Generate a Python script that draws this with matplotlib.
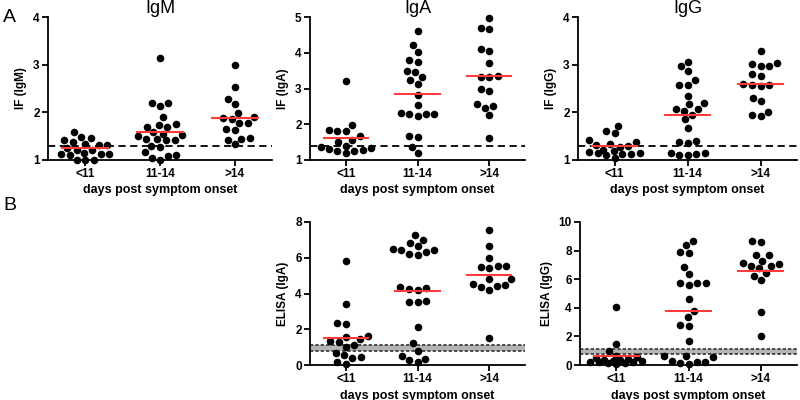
import numpy as np
import matplotlib
matplotlib.use("Agg")
import matplotlib.pyplot as plt

plt.rcParams["font.family"] = ["Liberation Sans", "DejaVu Sans"]

GROUPS = ["<11", "11-14", ">14"]

# IF panels (row A)
igm_if = [
    [1.58, 1.49, 1.46, 1.42, 1.38, 1.33, 1.32, 1.31, 1.25, 1.22, 1.20, 1.15, 1.13, 1.13, 1.12, 1.11, 1.01, 1.00, 1.00],
    [3.13, 2.20, 2.19, 2.13, 1.90, 1.75, 1.74, 1.70, 1.70, 1.58, 1.55, 1.52, 1.50, 1.45, 1.44, 1.42, 1.41, 1.30, 1.28, 1.17, 1.10, 1.08, 1.05, 1.00],
    [3.00, 2.53, 2.28, 2.17, 1.98, 1.90, 1.88, 1.85, 1.77, 1.77, 1.64, 1.62, 1.47, 1.45, 1.43, 1.33],
]
iga_if = [
    [3.20, 1.98, 1.84, 1.82, 1.80, 1.66, 1.57, 1.50, 1.40, 1.37, 1.33, 1.30, 1.29, 1.26, 1.24, 1.19],
    [4.61, 4.22, 4.01, 3.79, 3.75, 3.50, 3.47, 3.33, 3.25, 3.13, 2.82, 2.53, 2.31, 2.30, 2.30, 2.28, 2.22, 1.66, 1.64, 1.37, 1.19],
    [4.97, 4.70, 4.66, 4.10, 4.05, 3.70, 3.35, 3.33, 3.32, 2.98, 2.92, 2.57, 2.50, 2.46, 2.25, 1.62],
]
igg_if = [
    [1.72, 1.60, 1.56, 1.42, 1.38, 1.34, 1.32, 1.30, 1.28, 1.22, 1.18, 1.17, 1.15, 1.14, 1.13, 1.12, 1.11, 1.05],
    [3.05, 2.97, 2.86, 2.67, 2.57, 2.57, 2.35, 2.20, 2.17, 2.07, 2.03, 2.08, 1.95, 1.85, 1.68, 1.40, 1.37, 1.35, 1.15, 1.12, 1.10, 1.10, 1.14],
    [3.28, 3.03, 3.02, 2.98, 2.97, 2.80, 2.76, 2.60, 2.57, 2.57, 2.55, 2.30, 2.23, 2.00, 1.95, 1.93],
]
if_cutoff = {"IgM": 1.30, "IgA": 1.40, "IgG": 1.30}

# ELISA panels (row B)
iga_elisa = [
    [5.83, 3.44, 2.36, 2.28, 1.60, 1.57, 1.48, 1.35, 1.30, 1.12, 1.03, 0.67, 0.55, 0.45, 0.40, 0.18, 0.08],
    [7.25, 7.02, 6.85, 6.65, 6.50, 6.42, 6.45, 6.30, 6.20, 6.15, 4.28, 4.22, 4.27, 4.35, 3.60, 3.50, 3.50, 2.13, 1.22, 0.80, 0.50, 0.35, 0.28, 0.15],
    [7.55, 6.65, 5.98, 5.55, 5.50, 5.45, 5.55, 4.80, 4.83, 4.48, 4.38, 4.40, 4.55, 4.17, 1.50],
]
igg_elisa = [
    [4.07, 1.47, 0.96, 0.62, 0.55, 0.48, 0.42, 0.38, 0.35, 0.30, 0.26, 0.22, 0.20, 0.18, 0.15, 0.12, 0.10],
    [8.67, 8.40, 7.93, 7.83, 6.88, 6.35, 5.75, 5.70, 5.72, 5.62, 4.60, 3.80, 3.35, 2.75, 2.78, 1.68, 0.62, 0.60, 0.55, 0.30, 0.22, 0.20, 0.15, 0.05],
    [8.67, 8.60, 7.70, 7.68, 7.30, 7.15, 7.05, 6.95, 6.90, 6.75, 6.40, 6.25, 5.92, 3.72, 2.00],
]
elisa_band = (0.8, 1.1)

W, H = 800, 400
RED = "#ff3b3b"
DOT_PX = 7.2


def px_axes(fig, x0, x1, ytop, ybot):
    return fig.add_axes([x0 / W, 1 - ybot / H, (x1 - x0) / W, (ybot - ytop) / H])


def swarm_offsets(ax, center, vals, d, cap=0.36):
    """Simple beeswarm; squeezes points together when a group gets too wide."""
    pts = ax.transData.transform(np.column_stack([np.full(len(vals), center), vals]))
    ys = pts[:, 1]
    ppu = ax.transData.transform((1, 0))[0] - ax.transData.transform((0, 0))[0]
    cap_px = cap * ppu
    xs = np.zeros(len(vals))
    placed = []
    for i in np.argsort(ys):
        y = ys[i]
        dd = d
        while True:
            forb = []
            for px, py in placed:
                dy = abs(y - py)
                if dy < dd:
                    w = np.sqrt(dd * dd - dy * dy)
                    forb.append((px - w, px + w))
            cands = sorted([0.0] + [a for f in forb for a in f], key=abs)
            for c in cands:
                if all(not (lo + 1e-6 < c < hi - 1e-6) for lo, hi in forb):
                    break
            if abs(c) <= cap_px or dd < 3:
                break
            dd *= 0.85
        xs[i] = c
        placed.append((c, y))
    return center + xs / ppu


def panel(ax, data, ylim, yticks, ylabel, cutoff=None, band=None, title=None):
    ax.set_xlim(-0.5, 2.5)
    ax.set_ylim(*ylim)
    for s in ("top", "right"):
        ax.spines[s].set_visible(False)
    for s in ("left", "bottom"):
        ax.spines[s].set_linewidth(1.3)
    ax.set_xticks(range(3))
    ax.set_xticklabels(GROUPS)
    ax.set_yticks(yticks)
    ax.tick_params(direction="out", length=4, width=1.3, labelsize=8.5, pad=2)
    for lab in ax.get_xticklabels() + ax.get_yticklabels():
        lab.set_fontweight("bold")
    ax.set_ylabel(ylabel, fontsize=8.5, fontweight="bold", labelpad=4)
    ax.set_xlabel("days post symptom onset", fontsize=9, fontweight="bold", labelpad=3)
    if title:
        ax.set_title(title, fontsize=13, pad=2)

    if band is not None:
        ax.axhspan(band[0], band[1], color="#b4b4b4", lw=0, zorder=1)
        for b in band:
            ax.axhline(b, color="#333333", lw=1.2, ls=(0, (2, 1.2)), zorder=2)
    if cutoff is not None:
        ax.axhline(cutoff, color="black", lw=1.3, ls=(0, (4, 2.5)), zorder=2)

    for i, vals in enumerate(data):
        vals = np.asarray(vals)
        xs = swarm_offsets(ax, i, vals, DOT_PX + 1.4)
        ax.scatter(xs, vals, s=30, color="black", lw=0, zorder=3, clip_on=False)
        m = vals.mean()
        ax.plot([i - 0.31, i + 0.31], [m, m], color=RED, lw=1.5, zorder=4)


fig = plt.figure(figsize=(8, 4), dpi=100)

ax1 = px_axes(fig, 48, 272, 17, 160)
panel(ax1, igm_if, (1, 4), [1, 2, 3, 4], "IF (IgM)", cutoff=if_cutoff["IgM"], title="IgM")
ax2 = px_axes(fig, 310, 525, 17, 160)
panel(ax2, iga_if, (1, 5), [1, 2, 3, 4, 5], "IF (IgA)", cutoff=if_cutoff["IgA"], title="IgA")
ax3 = px_axes(fig, 578, 797, 17, 160)
panel(ax3, igg_if, (1, 4), [1, 2, 3, 4], "IF (IgG)", cutoff=if_cutoff["IgG"], title="IgG")

ax4 = px_axes(fig, 310, 525, 222, 365)
panel(ax4, iga_elisa, (0, 8), [0, 2, 4, 6, 8], "ELISA (IgA)", band=elisa_band)
ax5 = px_axes(fig, 580, 797, 222, 365)
panel(ax5, igg_elisa, (0, 10), [0, 2, 4, 6, 8, 10], "ELISA (IgG)", band=elisa_band)

fig.text(3 / W, 1 - 18 / H, "A", fontsize=14, va="center", ha="left")
fig.text(3 / W, 1 - 206 / H, "B", fontsize=14, va="center", ha="left")

fig.savefig("out.png", dpi=100, facecolor="white")
